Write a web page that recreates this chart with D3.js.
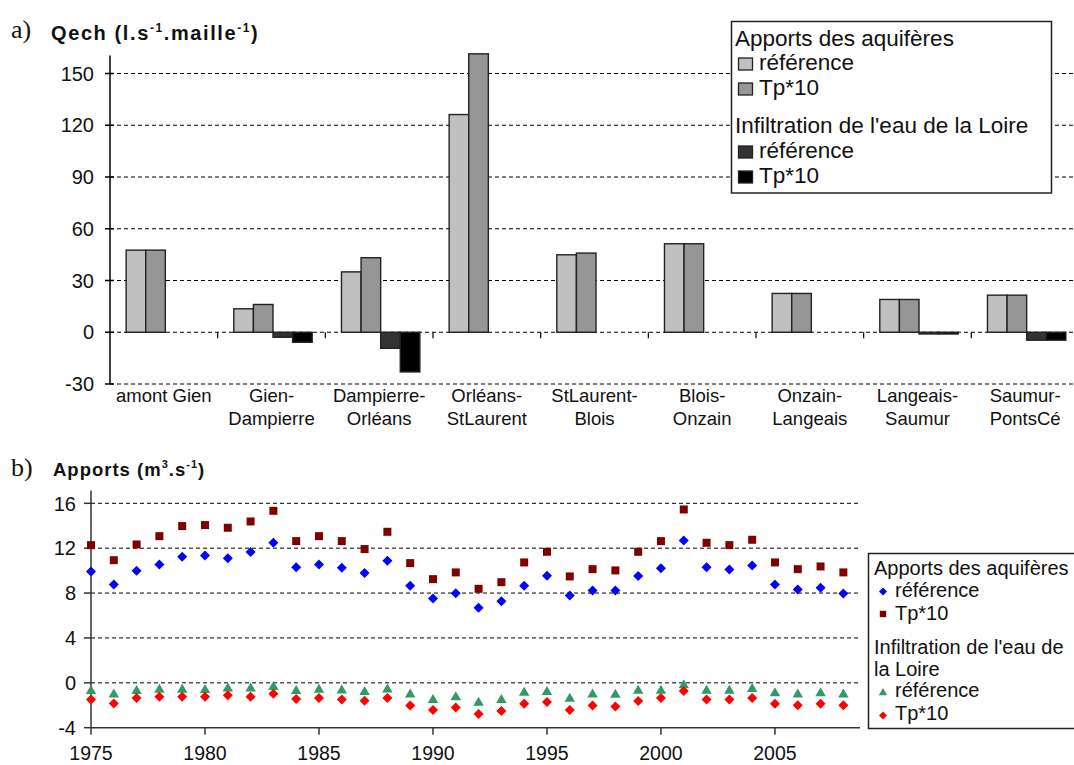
<!DOCTYPE html>
<html><head><meta charset="utf-8">
<script src="https://cdn.jsdelivr.net/npm/d3@7"></script>
<style>
body{margin:0;background:#fff}
text{font-family:"Liberation Sans",Arial,sans-serif;fill:#111}
</style>
</head><body>
<svg id="c" width="1074" height="765"></svg>
<script>
// ---------- DATA : chart a) ----------
const categories = ["amont Gien","Gien-Dampierre","Dampierre-Orléans","Orléans-StLaurent","StLaurent-Blois","Blois-Onzain","Onzain-Langeais","Langeais-Saumur","Saumur-PontsCé"];
const aqRef  = [47.6, 13.6, 35.0, 126.2, 44.9, 51.3, 22.5, 19.0, 21.5];
const aqTp   = [47.6, 16.1, 43.2, 161.4, 45.9, 51.3, 22.5, 19.0, 21.5];
const infRef = [0, -2.9, -9.3, 0, 0, 0, 0, -1.0, -4.6];
const infTp  = [0, -5.8, -23.0, 0, 0, 0, 0, -1.0, -4.6];
const yTicksA = [-30, 0, 30, 60, 90, 120, 150];

// ---------- DATA : chart b) ----------
const years = d3.range(1975, 2009);
const aqRefB = [9.93,8.77,9.98,10.55,11.23,11.35,11.11,11.65,12.48,10.31,10.55,10.25,9.78,10.87,8.65,7.52,7.99,6.68,7.28,8.65,9.54,7.79,8.23,8.23,9.51,10.22,12.69,10.31,10.10,10.46,8.77,8.32,8.47,7.97];
const aqTpB  = [12.27,10.93,12.33,13.07,13.97,14.06,13.82,14.38,15.33,12.63,13.07,12.63,11.92,13.46,10.67,9.24,9.84,8.38,8.97,10.73,11.68,9.48,10.13,10.02,11.68,12.63,15.45,12.48,12.27,12.75,10.73,10.13,10.37,9.84];
const infRefB = [-0.65,-0.95,-0.65,-0.53,-0.53,-0.56,-0.41,-0.41,-0.29,-0.65,-0.53,-0.59,-0.74,-0.50,-0.95,-1.45,-1.19,-1.69,-1.45,-0.80,-0.74,-1.34,-0.95,-0.98,-0.62,-0.62,-0.12,-0.62,-0.62,-0.47,-0.83,-0.95,-0.83,-0.95];
const infTpB  = [-1.48,-1.84,-1.36,-1.25,-1.25,-1.25,-1.10,-1.25,-0.98,-1.45,-1.36,-1.48,-1.60,-1.36,-2.02,-2.43,-2.19,-2.79,-2.52,-1.87,-1.72,-2.43,-2.02,-2.10,-1.63,-1.36,-0.74,-1.48,-1.48,-1.36,-1.87,-1.99,-1.87,-1.99];
const yTicksB = [-4, 0, 4, 8, 12, 16];
const xTicksB = [1975, 1980, 1985, 1990, 1995, 2000, 2005];

// ---------- legend texts ----------
const legendHeads = ["Apports des aquifères", "Infiltration de l'eau de la Loire"];
const legendItems = ["référence", "Tp*10"];

const svg = d3.select("#c");

// ================= CHART A =================
const seriesA = [aqRef, aqTp, infRef, infTp];
const fillsA = ["#c0c0c0", "#969696", "#333333", "#000000"];

const xa = d3.scaleBand().domain(categories).range([110, 1079]).paddingInner(0.272).paddingOuter(0.136);
const xs = d3.scaleBand().domain(d3.range(seriesA.length)).range([0, xa.bandwidth()]);
const ya = d3.scaleLinear().domain([-30, 150]).range([384, 73.5]);

const gA = svg.append("g");
gA.selectAll("line.grid").data(yTicksA).join("line")
  .attr("x1", 110).attr("x2", 1079)
  .attr("y1", d => ya(d)).attr("y2", d => ya(d))
  .attr("stroke", "#000").attr("stroke-width", 1).attr("stroke-dasharray", "4,3");

categories.forEach((c, i) => {
  seriesA.forEach((arr, j) => {
    const v = arr[i];
    if (!v) return;
    gA.append("rect")
      .attr("x", xa(c) + xs(j) + 1.5)
      .attr("y", ya(Math.max(v, 0)))
      .attr("width", xs.bandwidth())
      .attr("height", Math.abs(ya(v) - ya(0)))
      .attr("fill", fillsA[j]).attr("stroke", "#222").attr("stroke-width", 1.4);
  });
});

gA.append("line").attr("x1", 110).attr("x2", 110).attr("y1", ya(160.5)).attr("y2", ya(-30))
  .attr("stroke", "#000").attr("stroke-width", 1.5);
gA.selectAll("line.yt").data(yTicksA).join("line")
  .attr("x1", 105).attr("x2", 114).attr("y1", d => ya(d)).attr("y2", d => ya(d))
  .attr("stroke", "#000").attr("stroke-width", 1.5);
gA.selectAll("text.yl").data(yTicksA).join("text")
  .attr("x", 94).attr("y", d => ya(d)).attr("dy", "0.36em")
  .attr("text-anchor", "end").attr("font-size", 20).text(d => d);

categories.slice(1).forEach(c => {
  const bx = xa(c) - xa.step() * xa.paddingInner() / 2;
  gA.append("line").attr("x1", bx).attr("x2", bx).attr("y1", ya(0)).attr("y2", ya(0) + 6)
    .attr("stroke", "#000").attr("stroke-width", 1.2);
});
categories.forEach(c => {
  const k = c.indexOf("-");
  const lines = k < 0 ? [c] : [c.slice(0, k + 1), c.slice(k + 1)];
  const cx = xa(c) + xa.bandwidth() / 2;
  lines.forEach((l, li) => {
    gA.append("text").attr("x", cx).attr("y", 402 + li * 23)
      .attr("text-anchor", "middle").attr("font-size", 18.5).text(l);
  });
});

const lgA = gA.append("g");
lgA.append("rect").attr("x", 731.5).attr("y", 21.5).attr("width", 320).attr("height", 171.5)
  .attr("fill", "#fff").attr("stroke", "#222").attr("stroke-width", 1.5);
const legA = [
  {t: legendHeads[0], y: 46},
  {t: legendItems[0], y: 70, s: 0},
  {t: legendItems[1], y: 95, s: 1},
  {t: legendHeads[1], y: 133},
  {t: legendItems[0], y: 158, s: 2},
  {t: legendItems[1], y: 183, s: 3}
];
legA.forEach(r => {
  if (r.s === undefined) {
    lgA.append("text").attr("x", 735).attr("y", r.y).attr("font-size", 22.5).text(r.t);
  } else {
    lgA.append("rect").attr("x", 738.5).attr("y", r.y - 12).attr("width", 14).attr("height", 12)
      .attr("fill", fillsA[r.s]).attr("stroke", "#222").attr("stroke-width", 1.3);
    lgA.append("text").attr("x", 759).attr("y", r.y).attr("font-size", 22.5).text(r.t);
  }
});

svg.append("text").attr("x", 11).attr("y", 38).attr("font-size", 26)
  .style("font-family", '"Liberation Serif","DejaVu Serif",serif').text("a)");
const tA = svg.append("text").attr("x", 51).attr("y", 40).attr("font-size", 20)
  .attr("font-weight", "bold").attr("letter-spacing", 1.6);
tA.append("tspan").text("Qech (l.s");
tA.append("tspan").attr("font-size", 12).attr("dy", -8).text("-1");
tA.append("tspan").attr("dy", 8).text(".maille");
tA.append("tspan").attr("font-size", 12).attr("dy", -8).text("-1");
tA.append("tspan").attr("dy", 8).text(")");

// ================= CHART B =================
const xb = d3.scaleLinear().domain([1975, 2008.73]).range([91, 860]);
const yb = d3.scaleLinear().domain([-4, 16]).range([727.7, 503.3]);
const gB = svg.append("g");

gB.selectAll("line.grid").data(yTicksB.filter(d => d > -4)).join("line")
  .attr("x1", 91).attr("x2", 860).attr("y1", d => yb(d)).attr("y2", d => yb(d))
  .attr("stroke", "#000").attr("stroke-width", 1).attr("stroke-dasharray", "4,3");

gB.append("line").attr("x1", 91).attr("x2", 91).attr("y1", 490.5).attr("y2", yb(-4))
  .attr("stroke", "#333").attr("stroke-width", 1.5);
gB.append("line").attr("x1", 91).attr("x2", 860).attr("y1", yb(-4)).attr("y2", yb(-4))
  .attr("stroke", "#333").attr("stroke-width", 1.5);
gB.selectAll("line.yt").data(yTicksB).join("line")
  .attr("x1", 84).attr("x2", 91).attr("y1", d => yb(d)).attr("y2", d => yb(d))
  .attr("stroke", "#333").attr("stroke-width", 1.5);
gB.selectAll("text.yl").data(yTicksB).join("text")
  .attr("x", 76).attr("y", d => yb(d)).attr("dy", "0.36em")
  .attr("text-anchor", "end").attr("font-size", 20).text(d => d);
gB.selectAll("line.xt").data(xTicksB).join("line")
  .attr("x1", d => xb(d)).attr("x2", d => xb(d)).attr("y1", yb(-4)).attr("y2", yb(-4) + 7)
  .attr("stroke", "#333").attr("stroke-width", 1.5);
gB.selectAll("text.xl").data(xTicksB).join("text")
  .attr("x", d => xb(d)).attr("y", 760).attr("text-anchor", "middle")
  .attr("font-size", 19.5).text(d => d);

function shape(kind, r) {
  if (kind === "diamond") return `M0,${-r}L${r},0L0,${r}L${-r},0Z`;
  if (kind === "square") return `M${-r},${-r}H${r}V${r}H${-r}Z`;
  if (kind === "triangle") return `M0,${-r}L${r*1.05},${r*0.8}L${-r*1.05},${r*0.8}Z`;
}
const seriesB = [
  {vals: aqRefB, kind: "diamond", r: 5, color: "#0000ff"},
  {vals: aqTpB, kind: "square", r: 4, color: "#800000"},
  {vals: infRefB, kind: "triangle", r: 5, color: "#339966"},
  {vals: infTpB, kind: "diamond", r: 5, color: "#ff0000"}
];
seriesB.forEach(s => {
  gB.selectAll(null).data(years).join("path")
    .attr("transform", (d, i) => `translate(${xb(d)},${yb(s.vals[i])})`)
    .attr("d", shape(s.kind, s.r)).attr("fill", s.color);
});

const lgB = gB.append("g");
lgB.append("rect").attr("x", 868.5).attr("y", 553.5).attr("width", 215).attr("height", 175)
  .attr("fill", "#fff").attr("stroke", "#222").attr("stroke-width", 1.5);
const legB = [
  {t: legendHeads[0], y: 575},
  {t: legendItems[0], y: 597, s: 0, my: 591.5},
  {t: legendItems[1], y: 620, s: 1, my: 614},
  {t: "Infiltration de l'eau de", y: 654},
  {t: "la Loire", y: 675.5},
  {t: legendItems[0], y: 697, s: 2, my: 692},
  {t: legendItems[1], y: 720, s: 3, my: 715.5}
];
const legR = [4, 3.2, 4, 4];
legB.forEach(r => {
  if (r.s === undefined) {
    lgB.append("text").attr("x", 874).attr("y", r.y).attr("font-size", 20).text(r.t);
  } else {
    const s = seriesB[r.s];
    lgB.append("path").attr("transform", `translate(883,${r.my})`)
      .attr("d", shape(s.kind, legR[r.s])).attr("fill", s.color);
    lgB.append("text").attr("x", 895).attr("y", r.y).attr("font-size", 20).text(r.t);
  }
});

svg.append("text").attr("x", 11).attr("y", 476).attr("font-size", 26)
  .style("font-family", '"Liberation Serif","DejaVu Serif",serif').text("b)");
const tB = svg.append("text").attr("x", 53).attr("y", 476).attr("font-size", 18.5)
  .attr("font-weight", "bold").attr("letter-spacing", 1);
tB.append("tspan").text("Apports (m");
tB.append("tspan").attr("font-size", 11).attr("dy", -8).text("3");
tB.append("tspan").attr("dy", 8).text(".s");
tB.append("tspan").attr("font-size", 11).attr("dy", -8).text("-1");
tB.append("tspan").attr("dy", 8).text(")");
</script>
</body></html>
